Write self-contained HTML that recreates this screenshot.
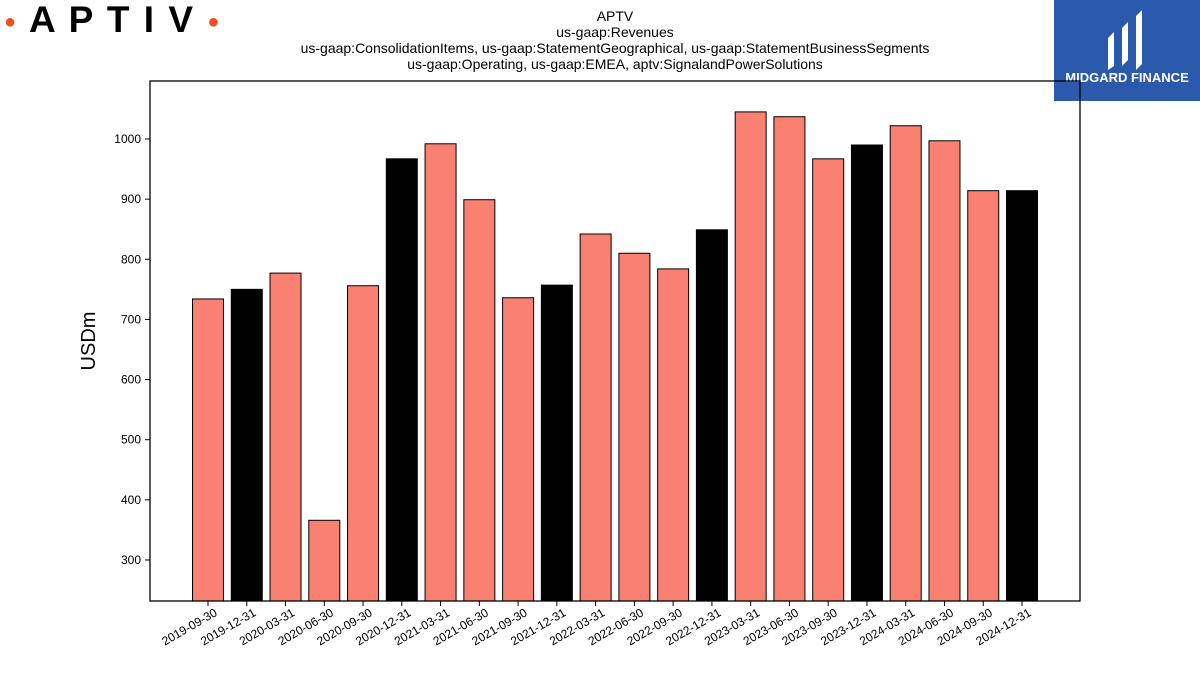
<!DOCTYPE html>
<html><head><meta charset="utf-8"><style>
body{margin:0;width:1200px;height:675px;background:#fff;font-family:"Liberation Sans","DejaVu Sans",sans-serif;overflow:hidden;position:relative}
.t{position:absolute;left:0;width:1230px;text-align:center;font-size:14px;line-height:16px;color:#000}
</style></head><body>
<div style="position:absolute;left:4px;top:0;height:40px;font-weight:bold;font-size:37px;line-height:40px;letter-spacing:2px;font-family:'Liberation Sans',sans-serif">
<span style="color:#f04e23;font-size:20px;vertical-align:middle">●</span> A P T I V <span style="color:#f04e23;font-size:20px;vertical-align:middle">●</span></div>
<div class="t" style="top:8px">APTV<br>us-gaap:Revenues<br>us-gaap:ConsolidationItems, us-gaap:StatementGeographical, us-gaap:StatementBusinessSegments<br>us-gaap:Operating, us-gaap:EMEA, aptv:SignalandPowerSolutions</div>
<div style="position:absolute;left:1054px;top:0;width:146px;height:101px;background:#2b5aad;color:#fff">
<svg width="146" height="70" style="position:absolute;left:0;top:0"><path d="M54 38 L60 32 L60 66 L54 70 Z M68 28 L74 22 L74 60 L68 66 Z M82 16 L88 10 L88 64 L82 70 Z" fill="#fff"/></svg>
<div style="position:absolute;top:70px;width:146px;text-align:center;font-weight:bold;font-size:13px">MIDGARD FINANCE</div></div>
<svg id="c" width="1200" height="675" style="position:absolute;left:0;top:0"></svg>
<script>
const categories=["2019-09-30","2019-12-31","2020-03-31","2020-06-30","2020-09-30","2020-12-31","2021-03-31","2021-06-30","2021-09-30","2021-12-31","2022-03-31","2022-06-30","2022-09-30","2022-12-31","2023-03-31","2023-06-30","2023-09-30","2023-12-31","2024-03-31","2024-06-30","2024-09-30","2024-12-31"];
const values=[734,750,777,366,756,967,992,899,736,757,842,810,784,849,1045,1037,967,990,1022,997,914,914];
const yTicks=[300,400,500,600,700,800,900,1000];
const NS="http://www.w3.org/2000/svg",svg=document.getElementById('c');
const L=150,R=1080,T=81,B=601,yMin=231.8,yMax=1096.4;
const y=v=>B-(v-yMin)/(yMax-yMin)*(B-T);
const step=(1022-208)/(categories.length-1);
const x=i=>208+i*step;
function mk(t,a){const e=document.createElementNS(NS,t);for(const k in a)e.setAttribute(k,a[k]);svg.appendChild(e);return e;}
categories.forEach((c,i)=>{
 const q4=c.endsWith("12-31");
 const r=mk('rect',{x:x(i)-15.5,y:y(values[i]),width:31,height:B-y(values[i]),fill:q4?'#000':'#fa8072',stroke:'#000','stroke-width':1});
 
 
 mk('line',{x1:x(i),x2:x(i),y1:B,y2:B+5,stroke:'#000'});
 const t=mk('text',{x:x(i)+10,y:B+14,'font-size':12,'text-anchor':'end',transform:`rotate(-30 ${x(i)+10} ${B+14})`});
 t.textContent=c;
 
 
});
yTicks.forEach(v=>{
 mk('line',{x1:L-5,x2:L,y1:y(v),y2:y(v),stroke:'#000'});
 const t=mk('text',{x:L-9,y:y(v)+4,'font-size':12,'text-anchor':'end'});
 t.textContent=v;
 
 
});
const f=mk('rect',{x:L,y:T,width:R-L,height:B-T,fill:'none',stroke:'#000','stroke-width':1.3});


const yl=mk('text',{x:95,y:341,'font-size':20,'text-anchor':'middle',transform:'rotate(-90 95 341)'});
yl.textContent='USDm';


</script>
</body></html>
